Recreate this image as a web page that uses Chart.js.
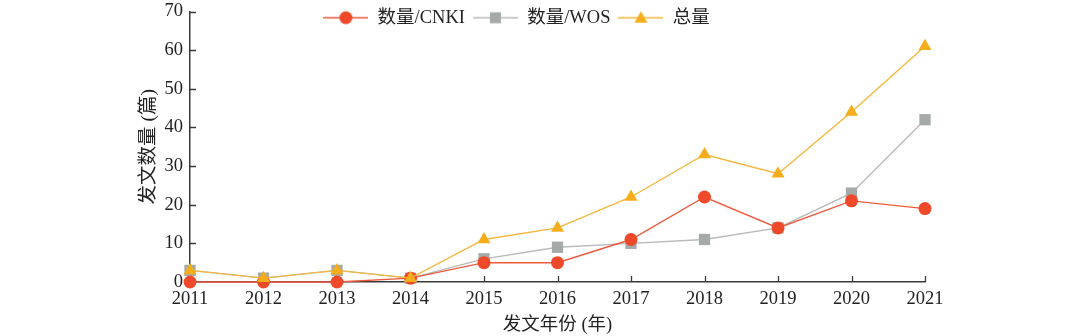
<!DOCTYPE html>
<html>
<head>
<meta charset="utf-8">
<script src="https://cdn.jsdelivr.net/npm/chart.js@4/dist/chart.umd.min.js"></script>
<style>
  html, body { margin: 0; padding: 0; background: #fff; }
  #wrap { width: 1080px; height: 336px; }
</style>
</head>
<body>
<div id="wrap"><canvas id="myChart" width="1080" height="336"></canvas></div>
<script>
const years = ['2011', '2012', '2013', '2014', '2015', '2016', '2017', '2018', '2019', '2020', '2021'];
const cnki = [0, 0, 0, 1, 5, 5, 11, 22, 14, 21, 19];
const wos = [3, 1, 3, 1, 6, 9, 10, 11, 14, 23, 42];
const total = [3, 1, 3, 1, 11, 14, 22, 33, 28, 44, 61];
const yTicks = [0, 10, 20, 30, 40, 50, 60, 70];

const FONT = '"Liberation Serif", "Noto Sans CJK SC", serif';
const FS = 18.5;
const AXIS = '#3a3a3a';

const red = '#ee4a2a', redLine = '#ec5a3e';
const grey = '#a4aaa7', greyLine = '#b6bab9';
const gold = '#f5ad1c', goldLine = '#f3b73d';

// legend symbol: short line with the marker on it
function legendIcon(lineColor, fill, shape) {
    const c = document.createElement('canvas');
    c.width = 45; c.height = 18;
    const g = c.getContext('2d');
    g.strokeStyle = lineColor; g.lineWidth = 1.5;
    g.beginPath(); g.moveTo(0, 9); g.lineTo(45, 9); g.stroke();
    g.fillStyle = fill;
    g.beginPath();
    if (shape === 'circle') g.arc(22.5, 9, 6.5, 0, Math.PI * 2);
    else if (shape === 'rect') g.rect(17, 3.5, 11, 11);
    else { g.moveTo(22.5, 2.5); g.lineTo(29, 14); g.lineTo(16, 14); g.closePath(); }
    g.fill();
    return c;
}
const icons = [
    legendIcon(redLine, red, 'circle'),
    legendIcon(greyLine, grey, 'rect'),
    legendIcon(goldLine, gold, 'tri')
];

// tick marks pointing into the plot, as in the original
const innerTicks = {
    id: 'innerTicks',
    beforeDatasetsDraw(chart) {
        const {ctx, scales: {x, y}} = chart;
        ctx.save();
        ctx.strokeStyle = AXIS;
        ctx.lineWidth = 1.3;
        ctx.beginPath();
        x.ticks.forEach((t, i) => {
            const px = Math.round(x.getPixelForTick(i)) + 0.5;
            ctx.moveTo(px, x.top);
            ctx.lineTo(px, x.top - 6);
        });
        y.ticks.forEach((t, i) => {
            const py = Math.round(y.getPixelForTick(i)) + 0.5;
            ctx.moveTo(y.right, py);
            ctx.lineTo(y.right + 6, py);
        });
        ctx.stroke();
        ctx.restore();
    }
};

// horizontal legend laid over the top of the plot, as in the original
const legendPlace = {
    id: 'legendPlace',
    beforeLayout(chart) {
        chart.legend.position = 'chartArea';
    },
    afterLayout(chart) {
        const lg = chart.legend;
        const ca = chart.chartArea;
        const dx = -41, dy = -11;
        lg.left = ca.left + dx;
        lg.right = ca.right + dx;
        lg.top += dy; lg.bottom += dy;
    }
};

const data = {
    labels: years,
    datasets: [
        {
            label: '数量/CNKI',
            data: cnki,
            borderColor: redLine,
            backgroundColor: red,
            pointBackgroundColor: red,
            pointBorderWidth: 0,
            pointStyle: 'circle',
            pointRadius: 6.5,
            borderWidth: 1.4,
            clip: false,
            order: 1
        },
        {
            label: '数量/WOS',
            data: wos,
            borderColor: greyLine,
            backgroundColor: grey,
            pointBackgroundColor: grey,
            pointBorderWidth: 0,
            pointStyle: 'rect',
            pointRadius: 8,
            borderWidth: 1.4,
            clip: false,
            order: 2
        },
        {
            label: '总量',
            data: total,
            borderColor: goldLine,
            backgroundColor: gold,
            pointBackgroundColor: gold,
            pointBorderWidth: 0,
            pointStyle: 'triangle',
            pointRadius: 7.5,
            borderWidth: 1.4,
            clip: false,
            order: 0
        }
    ]
};

const config = {
    type: 'line',
    data: data,
    options: {
        responsive: false,
        animation: false,
        layout: {
            padding: {left: 137, right: 155, top: 11.5, bottom: 0}
        },
        scales: {
            x: {
                offset: false,
                afterFit(scale) {
                    scale.height = 54;
                },
                grid: {display: false, drawTicks: false},
                border: {color: AXIS, width: 1.5},
                ticks: {
                    color: '#222',
                    padding: 6,
                    maxRotation: 0,
                    autoSkip: false,
                    font: {family: FONT, size: FS}
                },
                title: {
                    display: true,
                    text: '发文年份 (年)',
                    color: '#222',
                    padding: {top: 0, bottom: 0},
                    font: {family: FONT, size: FS}
                }
            },
            y: {
                min: 0,
                max: 70,
                afterBuildTicks(scale) {
                    scale.ticks = yTicks.map(v => ({value: v}));
                },
                afterFit(scale) {
                    scale.width = 53;
                    scale.paddingTop = 0;
                    scale.paddingBottom = 0;
                },
                grid: {display: false, drawTicks: false},
                border: {color: AXIS, width: 1.5},
                ticks: {
                    color: '#222',
                    padding: 7,
                    font: {family: FONT, size: FS}
                },
                title: {
                    display: true,
                    text: '发文数量 (篇)',
                    color: '#222',
                    padding: 0,
                    font: {family: FONT, size: 19.5}
                }
            }
        },
        plugins: {
            legend: {
                display: true,
                position: 'top',
                align: 'center',
                labels: {
                    usePointStyle: true,
                    pointStyleWidth: 45,
                    padding: 8,
                    color: '#222',
                    font: {family: FONT, size: FS},
                    sort: (a, b) => a.datasetIndex - b.datasetIndex,
                    generateLabels(chart) {
                        const items = Chart.defaults.plugins.legend.labels.generateLabels(chart);
                        items.forEach(it => { it.pointStyle = icons[it.datasetIndex]; });
                        return items;
                    }
                }
            },
            tooltip: {enabled: false}
        }
    },
    plugins: [innerTicks, legendPlace]
};

const myChart = new Chart(
    document.getElementById('myChart'),
    config
);
</script>
</body>
</html>
